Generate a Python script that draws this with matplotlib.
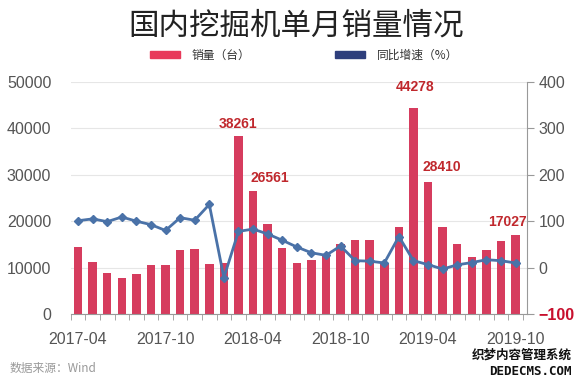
"""国内挖掘机单月销量情况: monthly excavator sales (bars) and YoY growth (line)."""

import matplotlib
matplotlib.use("Agg")
import matplotlib.pyplot as plt
from matplotlib.patches import Rectangle

months = ["2017-04", "2017-05", "2017-06", "2017-07", "2017-08", "2017-09",
          "2017-10", "2017-11", "2017-12", "2018-01", "2018-02", "2018-03",
          "2018-04", "2018-05", "2018-06", "2018-07", "2018-08", "2018-09",
          "2018-10", "2018-11", "2018-12", "2019-01", "2019-02", "2019-03",
          "2019-04", "2019-05", "2019-06", "2019-07", "2019-08", "2019-09",
          "2019-10"]
sales = [14350, 11200, 8900, 7700, 8700, 10500, 10500, 13800, 14000, 10700,
         10900, 38261, 26561, 19400, 14200, 11000, 11600, 12700, 15000, 15850,
         16000, 11000, 18650, 44278, 28410, 18800, 15100, 12300, 13850, 15800,
         17027]
yoy = [101, 105, 99, 109, 100, 92.5, 80, 107.6, 102, 136, -21.5, 78, 83,
       72.5, 59, 44.5, 32, 26.5, 46.6, 15, 14, 10, 67, 15, 6.5, -3, 6, 11,
       17, 15, 10]
tick_months = ["2017-04", "2017-10", "2018-04", "2018-10", "2019-04", "2019-10"]
labelled = {"2018-03": (0, 4), "2018-04": (12, 4), "2019-03": (1, 10),
            "2019-04": (10, 6), "2019-10": (-6, 4)}

CJK = ["Noto Sans CJK SC", "DejaVu Sans"]
NUM = "Liberation Sans"
BAR = "#d63c5e"
LINE = "#4a72a8"
GREY = "#555555"


def main() -> None:
    fig = plt.figure(figsize=(5.8, 3.84), dpi=100)
    ax = fig.add_axes([0.122, 0.182, 0.787, 0.605])
    ax2 = ax.twinx()

    x = list(range(len(months)))
    ax.bar(x, sales, width=0.58, color=BAR, zorder=2)
    ax.set_ylim(0, 50000)
    ax.set_yticks(range(0, 50001, 10000))
    ax.set_xlim(-0.45, len(months) - 0.2)
    ax.grid(axis="y", color="#e6e6e6", lw=0.8, zorder=0)
    ax.set_axisbelow(True)

    ax2.plot(x, yoy, color=LINE, lw=2, marker="D", ms=4, zorder=3)
    ax2.set_ylim(-100, 400)
    ax2.set_yticks(range(-100, 401, 100))

    for s in ["top", "left"]:
        ax.spines[s].set_visible(False)
        ax2.spines[s].set_visible(False)
    ax.spines["right"].set_visible(False)
    ax.spines["bottom"].set_color("#999999")
    ax2.spines["bottom"].set_visible(False)
    ax2.spines["right"].set_color("#999999")

    ax.tick_params(axis="y", length=0, pad=14, labelsize=11.5, labelcolor=GREY)
    ax2.tick_params(axis="y", length=5, color="#999999", pad=3,
                    labelsize=11.5, labelcolor=GREY)
    for lab in ax.get_yticklabels() + ax2.get_yticklabels():
        lab.set_fontfamily(NUM)
    ax2.get_yticklabels()[0].set_color("#c8102e")
    ax2.get_yticklabels()[0].set_fontweight("bold")

    ax.set_xticks([months.index(m) for m in tick_months])
    ax.set_xticklabels(tick_months, fontfamily=NUM, fontsize=11.5, color=GREY)
    ax.set_xticks([i - 0.5 for i in range(len(months) + 1)], minor=True)
    ax.tick_params(axis="x", which="major", length=0, pad=13)
    ax.tick_params(axis="x", which="minor", length=4, color="#999999")

    for m, (dx, dy) in labelled.items():
        i = months.index(m)
        ax.annotate(f"{sales[i]}", (i, sales[i]), xytext=(dx, dy),
                    textcoords="offset points", ha="center", va="bottom",
                    fontsize=10, fontweight="bold", color="#c0282d",
                    fontfamily=NUM)

    fig.text(0.51, 0.932, "国内挖掘机单月销量情况", ha="center", va="center",
             fontsize=22, family=CJK, color="#222222", fontweight="light")
    fig.patches.append(Rectangle((0.259, 0.848), 0.052, 0.018, color="#e8395a",
                                 transform=fig.transFigure, figure=fig))
    fig.text(0.33, 0.857, "销量（台）", va="center", fontsize=8.5, family=CJK,
             color="#333333")
    fig.patches.append(Rectangle((0.578, 0.848), 0.052, 0.018, color="#2e3f7c",
                                 transform=fig.transFigure, figure=fig))
    fig.text(0.65, 0.857, "同比增速（%）", va="center", fontsize=8.5, family=CJK,
             color="#333333")

    fig.text(0.017, 0.04, "数据来源：Wind", va="center", fontsize=8.5,
             family=CJK, color="#999999")
    fig.text(0.985, 0.075, "织梦内容管理系统", ha="right", va="center",
             fontsize=9, family=CJK, color="#111111", fontweight="bold")
    fig.text(0.985, 0.033, "DEDECMS.COM", ha="right", va="center",
             fontsize=9, family="DejaVu Sans Mono", color="#111111",
             fontweight="bold")

    fig.savefig("out.png", dpi=100)


if __name__ == "__main__":
    main()
